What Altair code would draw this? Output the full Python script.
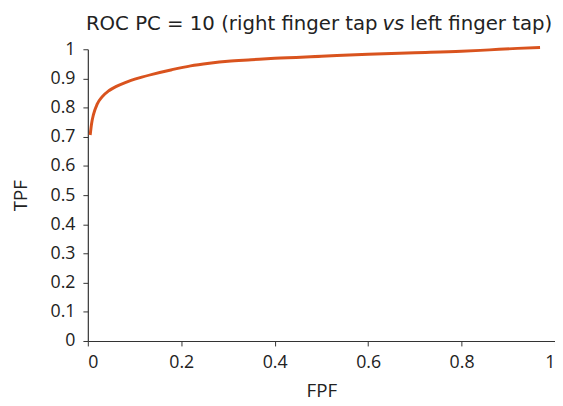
import altair as alt
import pandas as pd

# ROC curve points
FPF = [0.005, 0.008, 0.012, 0.02, 0.03, 0.045, 0.06, 0.08, 0.11, 0.14, 0.18, 0.22, 0.26, 0.30, 0.35, 0.40, 0.50, 0.60, 0.70, 0.80, 0.86, 0.92, 0.968]
TPF = [0.706, 0.745, 0.776, 0.812, 0.836, 0.858, 0.872, 0.886, 0.902, 0.915, 0.930, 0.943, 0.952, 0.959, 0.964, 0.969, 0.976, 0.983, 0.988, 0.993, 0.998, 1.003, 1.006]

TITLE_PARTS = ["ROC PC = 10 (right finger tap", "vs", "left finger tap)"]

FONT = "Open Sans"
TITLE_FONT = "DejaVu Sans"
COLOR = "#D9531E"
TEXT = "#222222"

df = pd.DataFrame({"FPF": FPF, "TPF": TPF})

line = alt.Chart(df).mark_line(color=COLOR, strokeWidth=3, interpolate="monotone").encode(
    x=alt.X("FPF:Q", scale=alt.Scale(domain=[0, 1], nice=False),
            axis=alt.Axis(values=[0, 0.2, 0.4, 0.6, 0.8, 1], format="~g", title="FPF")),
    y=alt.Y("TPF:Q", scale=alt.Scale(domain=[0, 1], nice=False),
            axis=alt.Axis(values=[i / 10 for i in range(11)], format="~g", title="TPF")),
)

TY = -20
TS = 20
t_left = alt.Chart(pd.DataFrame({"t": [TITLE_PARTS[0]]})).mark_text(
    align="right", baseline="alphabetic", font=TITLE_FONT, fontSize=TS, color=TEXT
).encode(text="t:N", x=alt.value(294), y=alt.value(TY))

t_mid = alt.Chart(pd.DataFrame({"t": [TITLE_PARTS[1]]})).mark_text(
    align="center", baseline="alphabetic", font=TITLE_FONT, fontSize=TS, fontStyle="italic", color=TEXT
).encode(text="t:N", x=alt.value(310), y=alt.value(TY))

t_right = alt.Chart(pd.DataFrame({"t": [TITLE_PARTS[2]]})).mark_text(
    align="left", baseline="alphabetic", font=TITLE_FONT, fontSize=TS, color=TEXT
).encode(text="t:N", x=alt.value(327), y=alt.value(TY))

chart = alt.layer(line, t_left, t_mid, t_right).properties(
    width=474, height=296,
    autosize="none",
    padding={"left": 81, "top": 39, "right": 0, "bottom": 58},
).configure_view(stroke=None).configure_axis(
    grid=False,
    domainColor="#333",
    tickColor="#333",
    domainWidth=1.2,
    tickSize=5,
    labelFont=FONT,
    labelFontSize=18,
    labelColor=TEXT,
    labelPadding=8,
    titleFont=FONT,
    titleFontSize=19,
    titleFontWeight="normal",
    titleColor=TEXT,
).configure_axisX(titlePadding=10).configure_axisY(titlePadding=20)

chart.save("out.html", embed_options={"renderer": "svg", "actions": False})
